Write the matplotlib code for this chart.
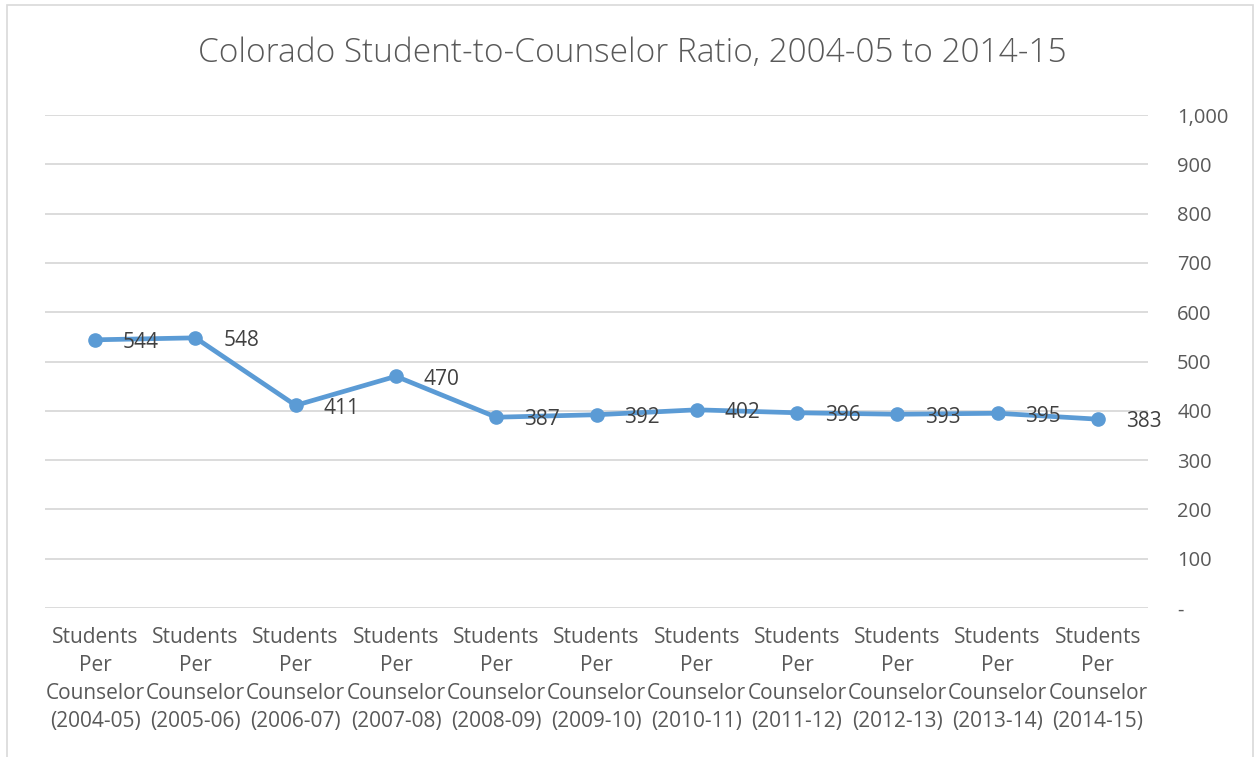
import matplotlib.pyplot as plt
from matplotlib.patches import Rectangle
from matplotlib.ticker import FuncFormatter

years = ["2004-05", "2005-06", "2006-07", "2007-08", "2008-09", "2009-10",
         "2010-11", "2011-12", "2012-13", "2013-14", "2014-15"]
ratios = [544, 548, 411, 470, 387, 392, 402, 396, 393, 395, 383]
y_ticks = [0, 100, 200, 300, 400, 500, 600, 700, 800, 900, 1000]

line_color = "#5B9BD5"
text_color = "#595959"

plt.rcParams["font.family"] = ["Open Sans", "DejaVu Sans"]

fig = plt.figure(figsize=(12.59, 7.57), dpi=100)
ax = fig.add_axes([45 / 1259, 1 - 608 / 757, (1148 - 45) / 1259, (608 - 115) / 757])

x = list(range(len(years)))
ax.plot(x, ratios, color=line_color, lw=3.4, marker="o", ms=9.5, zorder=3,
        solid_capstyle="round")
for xi, v in zip(x, ratios):
    ax.annotate(str(v), (xi, v), xytext=(20, -2), textcoords="offset points",
                ha="left", va="center", fontsize=15, color="#404040", zorder=4)

ax.set_xlim(-0.5, len(years) - 0.5)
ax.set_ylim(0, 1000)
ax.set_xticks(x)
ax.set_xticklabels([f"Students\nPer\nCounselor\n({y})" for y in years],
                   fontsize=15, color=text_color, linespacing=1.42)
ax.set_yticks(y_ticks)
ax.yaxis.set_major_formatter(FuncFormatter(lambda v, p: "-" if v == 0 else f"{int(v):,}"))
ax.yaxis.tick_right()
ax.tick_params(axis="y", length=0, pad=21, labelsize=14.5, labelcolor=text_color)
ax.tick_params(axis="x", length=0, pad=14)
ax.grid(axis="y", color="#D9D9D9", lw=1.3)
ax.set_axisbelow(True)
for s in ax.spines.values():
    s.set_visible(False)

fig.text(632 / 1259, 1 - 53 / 757, "Colorado Student-to-Counselor Ratio, 2004-05 to 2014-15",
         ha="center", va="center", fontsize=24, color=text_color,
         family=["Open Sans", "DejaVu Sans"], fontweight="light")

fig.patches.append(Rectangle((7 / 1259, -0.01), (1253 - 7) / 1259, 1 - 5 / 757 + 0.01,
                             transform=fig.transFigure, fill=False, ec="#D9D9D9", lw=1.2))

fig.savefig("out.png", dpi=100)
